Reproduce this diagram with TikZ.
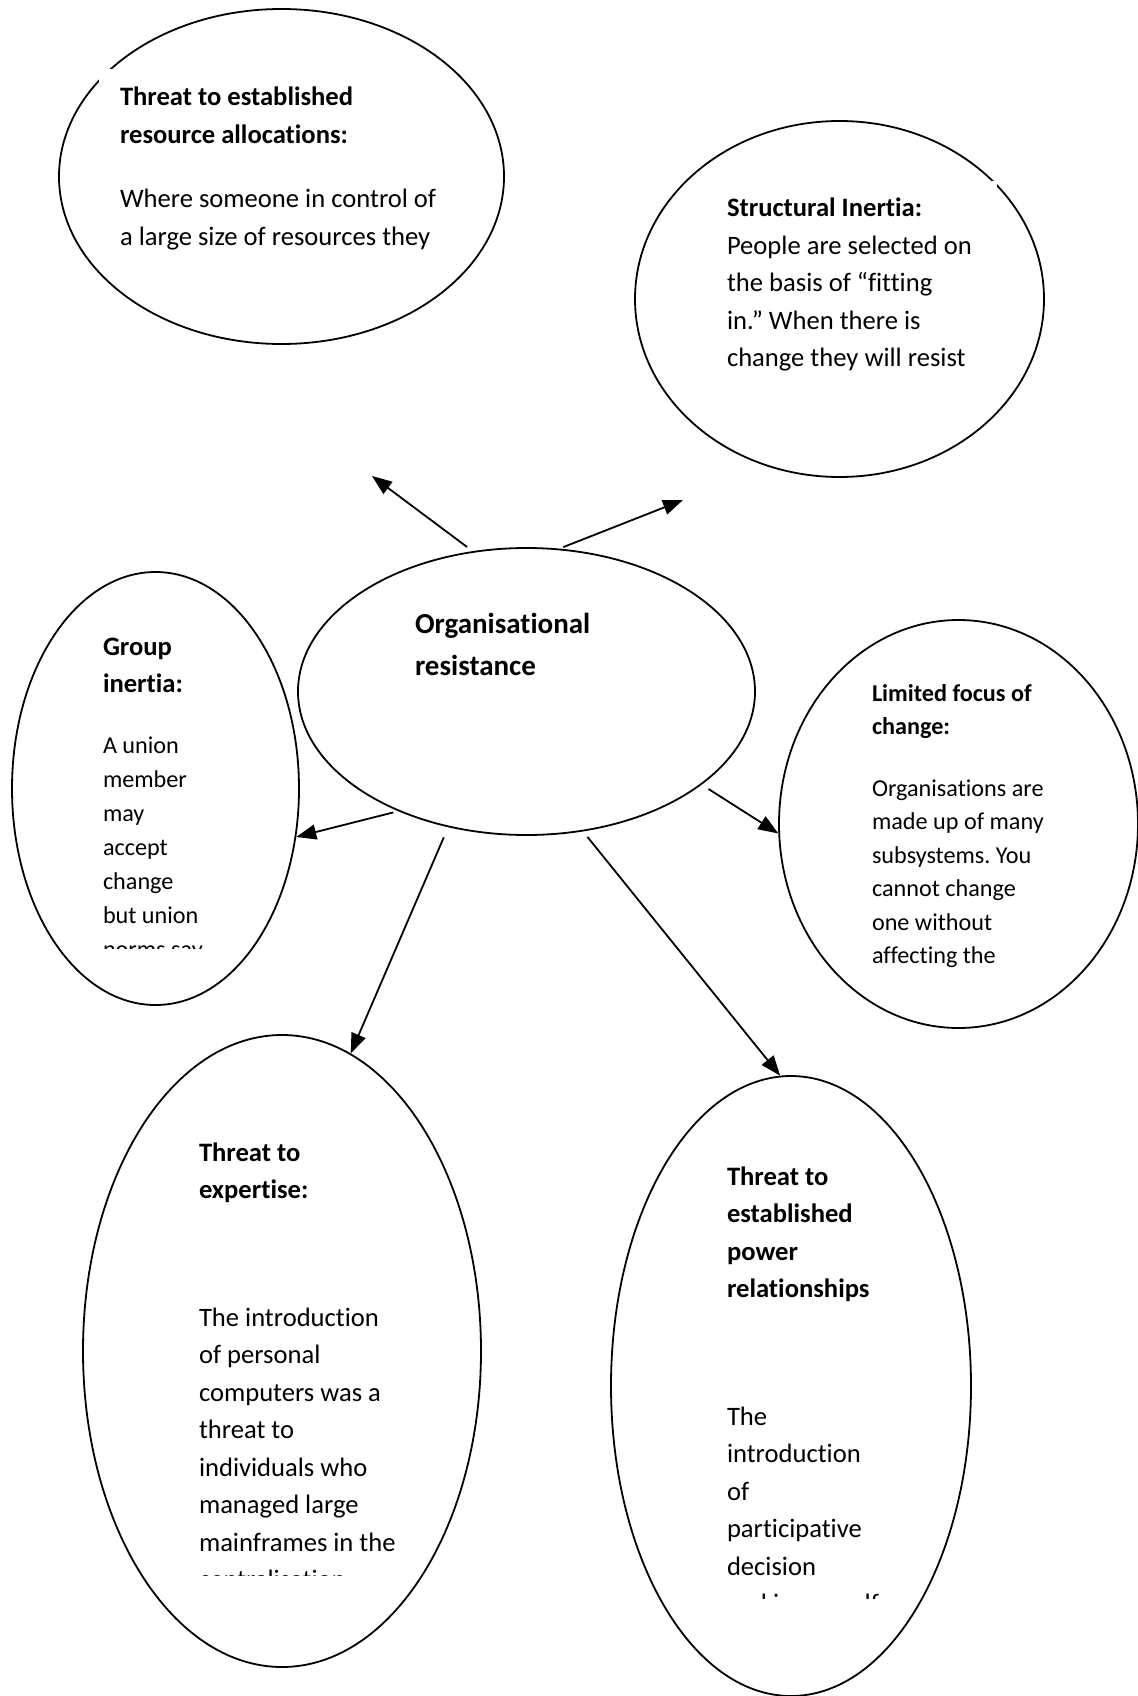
\documentclass[tikz,border=0pt]{standalone}
\usepackage{fontspec}
\setmainfont{Carlito}[RawFeature={-liga;-clig;-dlig;-calt;-hlig}]
\usetikzlibrary{shapes.geometric,arrows.meta}
\frenchspacing

% type sizes (1 unit = 1 pixel of the drawing)
\newcommand\szbig{\fontsize{29}{42}\selectfont}
\newcommand\szmid{\fontsize{26.6}{37.5}\selectfont}
\newcommand\szsmall{\fontsize{24.2}{33.5}\selectfont}
\newcommand\szgrp{\fontsize{24.2}{34}\selectfont}
% a block of lines whose baseline is its first line
\newcommand\txtlines[1]{\parbox[t]{400pt}{\raggedright #1}}

\tikzset{
  bubble/.style={draw, ellipse, line width=1.8pt, inner sep=0pt},
  txtblk/.style={anchor=base west, inner sep=0pt, outer sep=0pt},
  link/.style={line width=1.8pt, -{Triangle[length=20pt,width=15pt]}}
}

\begin{document}
\begin{tikzpicture}[x=1pt,y=-1pt]
\path[fill=white] (0,0) rectangle (1137,1696);
\useasboundingbox (0,0) rectangle (1137,1696);

% bubbles
\node[bubble, minimum width=445pt, minimum height=335pt] (res) at (281.5,176.5) {};
\node[bubble, minimum width=409pt, minimum height=356pt] (str) at (839.5,299) {};
\node[bubble, minimum width=457pt, minimum height=287pt] (org) at (526.5,691.5) {};
\node[bubble, minimum width=287pt, minimum height=433pt] (grp) at (155.5,788.5) {};
\node[bubble, minimum width=359pt, minimum height=408pt] (lim) at (958.5,824) {};
\node[bubble, minimum width=398pt, minimum height=632pt] (exp) at (282,1351) {};
\node[bubble, minimum width=360pt, minimum height=620pt] (pow) at (791,1386) {};

% opaque text-box backgrounds
\fill[white] (99,69) rectangle (430,265);
\fill[white] (700,181) rectangle (997,400);

% resource allocations
\node[txtblk] (resT) at (120,106) {\txtlines{\szmid\bfseries Threat to established\\resource allocations:}};
\node[txtblk] (resB) at (120,208) {\txtlines{\szmid Where someone in control of\\a large size of resources they}};

% structural inertia
\node[txtblk] (strT) at (727,217) {\txtlines{\szmid\textbf{Structural Inertia:}\\People are selected on\\the basis of “fitting\\in.” When there is\\change they will resist}};

% centre
\node[txtblk] (orgT) at (415,633) {\txtlines{\szbig\bfseries Organisational\\resistance}};

% group inertia
\node[txtblk] (grpT) at (103,655) {\txtlines{\szmid\bfseries Group\\inertia:}};
\begin{scope}
  \clip (90,700) rectangle (300,948.5);
  \node[txtblk] (grpB) at (103,753) {\txtlines{\szgrp A union\\member\\may\\accept\\change\\but union\\norms say}};
\end{scope}

% limited focus of change
\node[txtblk] (limT) at (872,701) {\txtlines{\szsmall\bfseries Limited focus of\\change:}};
\node[txtblk] (limB) at (872,796) {\txtlines{\szsmall Organisations are\\made up of many\\subsystems. You\\cannot change\\one without\\affecting the}};

% threat to expertise
\node[txtblk] (expT) at (199,1161) {\txtlines{\szmid\bfseries Threat to\\expertise:}};
\begin{scope}
  \clip (180,1300) rectangle (480,1575);
  \node[txtblk] (expB) at (199,1326) {\txtlines{\szmid The introduction\\of personal\\computers was a\\threat to\\individuals who\\managed large\\mainframes in the\\centralisation}};
\end{scope}

% threat to established power relationships
\node[txtblk] (powT) at (727,1185) {\txtlines{\szmid\bfseries Threat to\\established\\power\\relationships}};
\begin{scope}
  \clip (700,1400) rectangle (960,1598.5);
  \node[txtblk] (powB) at (727,1425) {\txtlines{\szmid The\\introduction\\of\\participative\\decision\\making or self-}};
\end{scope}

% connectors
\coordinate (tipRes) at (372,476);
\coordinate (tipStr) at (683,500);
\draw[link, shorten <=7pt]  (org.111) -- (tipRes);
\draw[link, shorten <=4pt]  (org.77)  -- (tipStr);
\draw[link, shorten <=5pt]  (org.223) -- (grp.341);
\draw[link, shorten <=8pt]  (org.332) -- (lim.183);
\draw[link, shorten <=11pt] (org.240) -- (exp.77);
\draw[link, shorten <=7pt]  (org.292) -- (pow.92);
\end{tikzpicture}
\end{document}
